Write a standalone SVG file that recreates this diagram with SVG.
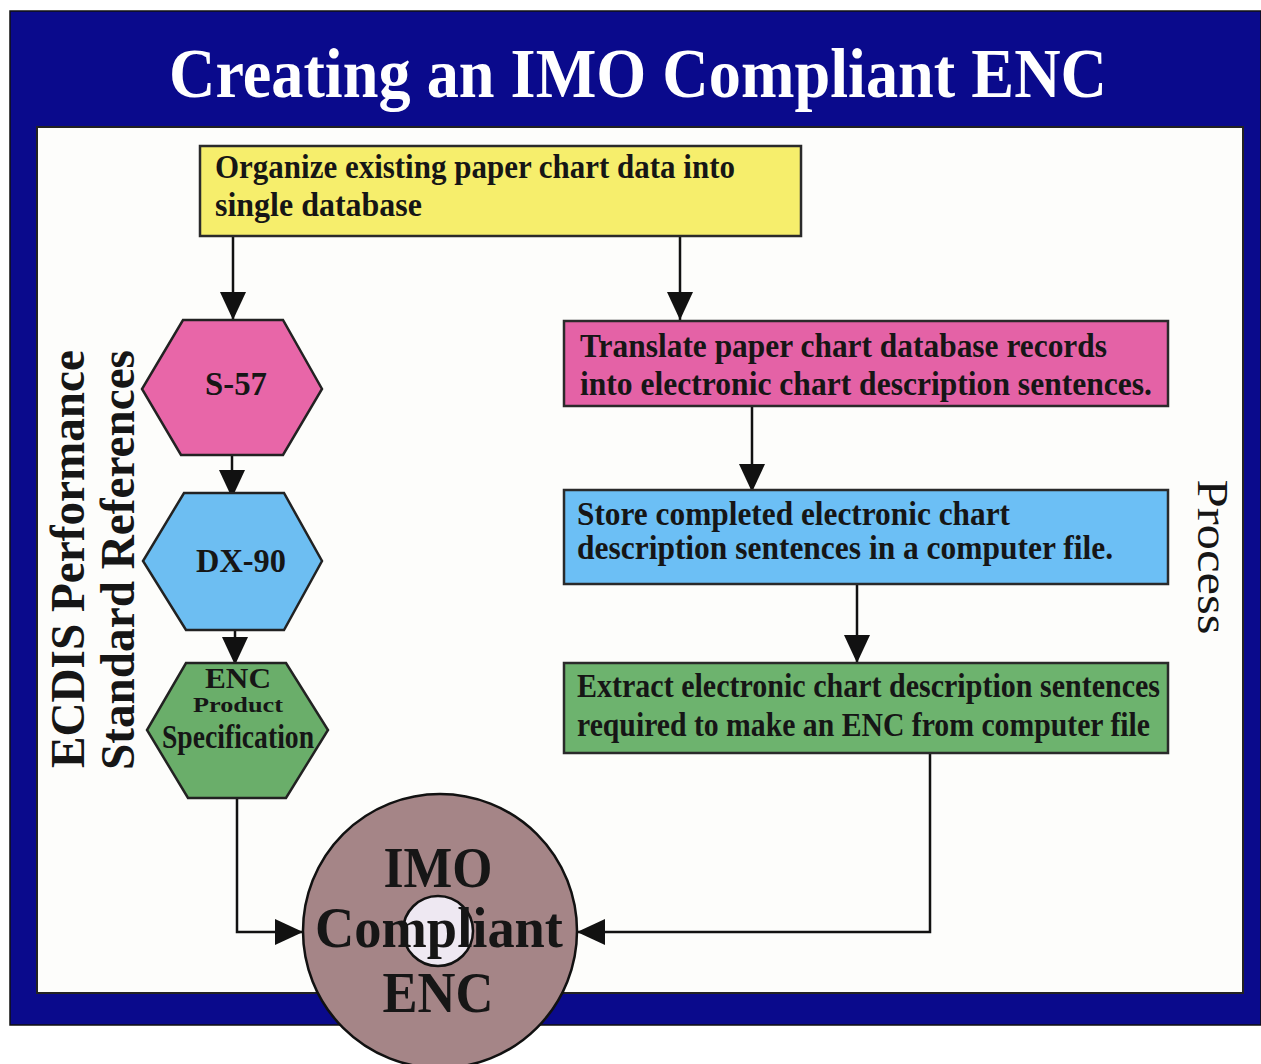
<svg xmlns="http://www.w3.org/2000/svg" width="1261" height="1064" viewBox="0 0 1261 1064">
<defs>
<style>
.t{font-family:"Liberation Serif","Times New Roman",serif;font-weight:bold;fill:#161616}
.title{font-family:"Liberation Serif","Times New Roman",serif;font-weight:bold;fill:#ffffff}
.box{stroke:#2a2a2a;stroke-width:2.5}
.hex{stroke:#222;stroke-width:2.5}
.c{fill:none;stroke:#111;stroke-width:2.5}
</style>
<marker id="ah" markerUnits="userSpaceOnUse" markerWidth="28" markerHeight="26" refX="28" refY="13" orient="auto" viewBox="0 0 28 26">
<path d="M0,0 L28,13 L0,26 z" fill="#111"/>
</marker>
</defs>
<rect x="0" y="0" width="1261" height="1064" fill="#ffffff"/>
<g id="frame">
<rect x="10" y="11" width="1251" height="1014" fill="#0a0a8c" stroke="#111" stroke-width="1.5"/>
<rect x="37" y="127" width="1206" height="866" fill="#fdfdfb" stroke="#222" stroke-width="2"/>
<text class="title" x="638" y="97" font-size="70" text-anchor="middle" textLength="938" lengthAdjust="spacingAndGlyphs">Creating an IMO Compliant ENC</text>
</g>
<g id="side-left">
<text class="t" transform="translate(84,559) rotate(-90)" font-size="48" text-anchor="middle" textLength="418" lengthAdjust="spacingAndGlyphs">ECDIS Performance</text>
<text class="t" transform="translate(134,560) rotate(-90)" font-size="48" text-anchor="middle" textLength="420" lengthAdjust="spacingAndGlyphs">Standard References</text>
</g>
<g id="side-right">
<text transform="translate(1198,557) rotate(90)" font-family="Liberation Serif, Times New Roman, serif" font-size="44" fill="#161616" text-anchor="middle" textLength="155" lengthAdjust="spacingAndGlyphs">Process</text>
</g>
<g id="connectors">
<path class="c" d="M233,237 V320" marker-end="url(#ah)"/>
<path class="c" d="M680,237 V320" marker-end="url(#ah)"/>
<path class="c" d="M232,455 V498" marker-end="url(#ah)"/>
<path class="c" d="M235,630 V665" marker-end="url(#ah)"/>
<path class="c" d="M752,406 V492" marker-end="url(#ah)"/>
<path class="c" d="M857,584 V663" marker-end="url(#ah)"/>
<path class="c" d="M237,798 V932 H303" marker-end="url(#ah)"/>
<path class="c" d="M930,753 V932 H577" marker-end="url(#ah)"/>
</g>
<g id="organize">
<rect class="box" x="200" y="146" width="601" height="90" fill="#f6ee6c"/>
<text class="t" x="215" y="178" font-size="34" textLength="520" lengthAdjust="spacingAndGlyphs">Organize existing paper chart data into</text>
<text class="t" x="215" y="216" font-size="34" textLength="207" lengthAdjust="spacingAndGlyphs">single database</text>
</g>
<g id="s57">
<polygon class="hex" points="183,320 283,320 322,389 283,455 181,455 142,389" fill="#e866a8"/>
<text class="t" x="236" y="395" font-size="34" text-anchor="middle" textLength="62" lengthAdjust="spacingAndGlyphs">S-57</text>
</g>
<g id="dx90">
<polygon class="hex" points="184,493 284,493 322,561 284,630 186,630 143,561" fill="#6dbef2"/>
<text class="t" x="241" y="572" font-size="34" text-anchor="middle" textLength="90" lengthAdjust="spacingAndGlyphs">DX-90</text>
</g>
<g id="encps">
<polygon class="hex" points="186,663 286,663 328,730 286,798 188,798 147,730" fill="#6aae6a"/>
<text class="t" x="238" y="688" font-size="30" text-anchor="middle" textLength="66" lengthAdjust="spacingAndGlyphs">ENC</text>
<text class="t" x="238" y="712" font-size="20" text-anchor="middle" textLength="90" lengthAdjust="spacingAndGlyphs">Product</text>
<text class="t" x="238" y="748" font-size="33" text-anchor="middle" textLength="152" lengthAdjust="spacingAndGlyphs">Specification</text>
</g>
<g id="translate">
<rect class="box" x="564" y="321" width="604" height="85" fill="#e462a6"/>
<text class="t" x="580" y="357" font-size="34" textLength="527" lengthAdjust="spacingAndGlyphs">Translate paper chart database records</text>
<text class="t" x="580" y="395" font-size="34" textLength="572" lengthAdjust="spacingAndGlyphs">into electronic chart description sentences.</text>
</g>
<g id="store">
<rect class="box" x="564" y="490" width="604" height="94" fill="#6cbff5"/>
<text class="t" x="577" y="525" font-size="34" textLength="433" lengthAdjust="spacingAndGlyphs">Store completed electronic chart</text>
<text class="t" x="577" y="559" font-size="34" textLength="536" lengthAdjust="spacingAndGlyphs">description sentences in a computer file.</text>
</g>
<g id="extract">
<rect class="box" x="564" y="663" width="604" height="90" fill="#6db36e"/>
<text class="t" x="577" y="697" font-size="34" textLength="583" lengthAdjust="spacingAndGlyphs" fill="#10261a">Extract electronic chart description sentences</text>
<text class="t" x="577" y="736" font-size="34" textLength="573" lengthAdjust="spacingAndGlyphs" fill="#10261a">required to make an ENC from computer file</text>
</g>
<g id="imo-enc">
<circle cx="440" cy="931" r="137" fill="#a58587" stroke="#111" stroke-width="2.5"/>
<circle cx="438" cy="931" r="35" fill="#eee8f2" stroke="#111" stroke-width="2.5"/>
<text class="t" x="438" y="887" font-size="56" text-anchor="middle" textLength="109" lengthAdjust="spacingAndGlyphs">IMO</text>
<text class="t" x="439" y="947" font-size="56" text-anchor="middle" textLength="248" lengthAdjust="spacingAndGlyphs">Compliant</text>
<text class="t" x="438" y="1012" font-size="56" text-anchor="middle" textLength="111" lengthAdjust="spacingAndGlyphs">ENC</text>
</g>
</svg>
